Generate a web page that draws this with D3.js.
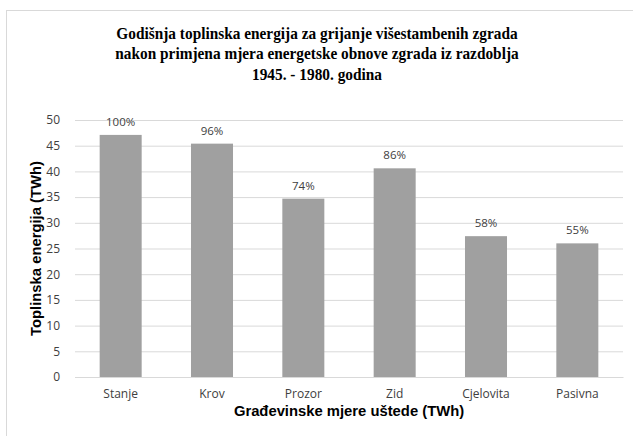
<!DOCTYPE html>
<html><head><meta charset="utf-8">
<script src="https://cdn.jsdelivr.net/npm/d3@7"></script>
<style>body{margin:0;background:#fff}svg{display:block}</style>
</head><body>
<script>
const categories = ["Stanje","Krov","Prozor","Zid","Cjelovita","Pasivna"];
const values = [47.1, 45.4, 34.7, 40.6, 27.4, 26.0];
const percentLabels = ["100%","96%","74%","86%","58%","55%"];
const yTicks = [0,5,10,15,20,25,30,35,40,45,50];
const titleLines = ["Godišnja toplinska energija za grijanje višestambenih zgrada","nakon primjena mjera energetske obnove zgrada iz razdoblja","1945. - 1980. godina"];
const xTitle = "Građevinske mjere uštede (TWh)";
const yTitle = "Toplinska energija (TWh)";

const W = 633, H = 436;
const m = {left:75, right:10, top:120, bottom:59};
const svg = d3.select("body").append("svg").attr("width",W).attr("height",H);
svg.append("rect").attr("x",6.5).attr("y",10.5).attr("width",W).attr("height",H)
  .attr("fill","#fff").attr("stroke","#d9d9d9").attr("stroke-width",1);

const x = d3.scaleBand().domain(categories).range([m.left, W-m.right]).paddingInner(0.54).paddingOuter(0.27);
const y = d3.scaleLinear().domain([0,50]).range([H-m.bottom, m.top]);

const title = svg.append("g").attr("transform","translate(317,0) scale(0.93,1)")
  .append("text").attr("text-anchor","middle")
  .attr("font-family","Liberation Serif, Times New Roman, serif").attr("font-weight","bold")
  .attr("font-size","16.5px").attr("fill","#000");
titleLines.forEach((t,i)=>title.append("tspan").attr("x",0).attr("y",39+i*20.5).text(t));

const yAxis = svg.append("g").attr("transform",`translate(${m.left},0)`)
  .call(d3.axisLeft(y).tickValues(yTicks).tickSize(-(W-m.right-m.left)).tickPadding(15));
yAxis.select(".domain").remove();
yAxis.selectAll(".tick line").attr("stroke","#d9d9d9").attr("stroke-width",1);
yAxis.selectAll(".tick text").attr("font-family","Open Sans, Noto Sans, sans-serif").attr("font-size","12px").attr("fill","#404040");

const xAxis = svg.append("g").attr("transform",`translate(0,${H-m.bottom})`)
  .call(d3.axisBottom(x).tickSize(0).tickPadding(12));
xAxis.select(".domain").attr("stroke","#d9d9d9");
xAxis.selectAll(".tick text").attr("font-family","Open Sans, Noto Sans, sans-serif").attr("font-size","12px").attr("fill","#404040");

svg.append("g").selectAll("rect").data(categories).join("rect")
  .attr("x",d=>x(d)).attr("width",x.bandwidth())
  .attr("y",(d,i)=>y(values[i])).attr("height",(d,i)=>y(0)-y(values[i]))
  .attr("fill","#a0a0a0");

svg.append("g").selectAll("text").data(categories).join("text")
  .attr("x",d=>x(d)+x.bandwidth()/2).attr("y",(d,i)=>y(values[i])-9)
  .attr("text-anchor","middle").attr("font-family","Open Sans, Noto Sans, sans-serif")
  .attr("font-size","11.5px").attr("fill","#404040").text((d,i)=>percentLabels[i]);

svg.append("text").attr("x",(m.left+W-m.right)/2).attr("y",416).attr("text-anchor","middle")
  .attr("font-family","Liberation Sans, Arial, sans-serif").attr("font-weight","bold")
  .attr("font-size","14.8px").attr("fill","#000").text(xTitle);

svg.append("text").attr("transform",`translate(41,${(m.top+H-m.bottom)/2}) rotate(-90)`)
  .attr("text-anchor","middle").attr("font-family","Liberation Sans, Arial, sans-serif")
  .attr("font-weight","bold").attr("font-size","14.8px").attr("fill","#000").text(yTitle);
</script>
</body></html>
